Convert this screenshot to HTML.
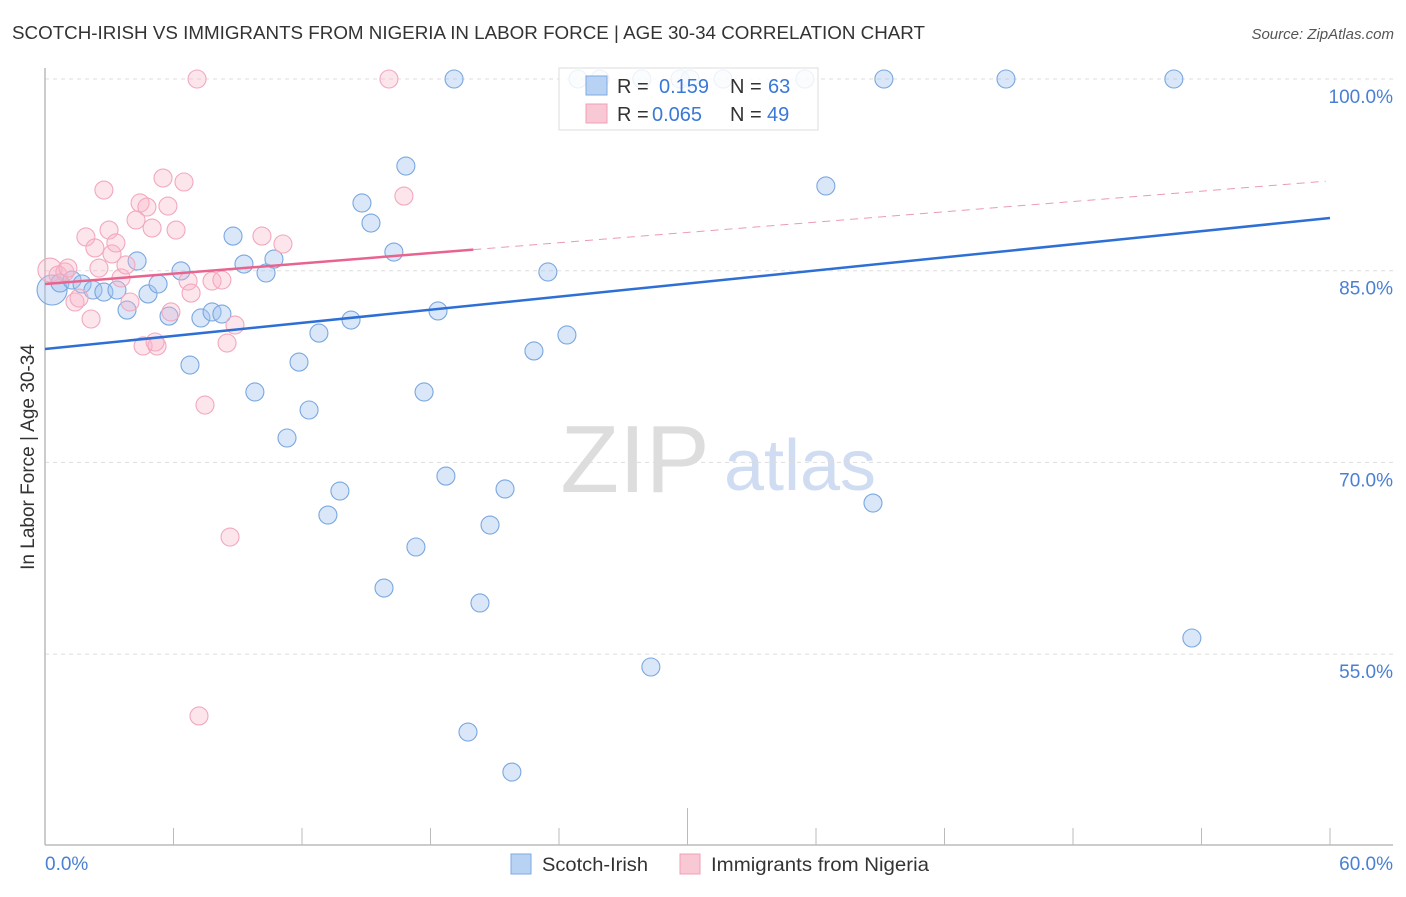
<!DOCTYPE html>
<html><head><meta charset="utf-8"><style>
body{margin:0;background:#fff;font-family:"Liberation Sans",sans-serif;}
svg text{font-family:"Liberation Sans",sans-serif;}
</style></head><body>
<svg id="chart" width="1406" height="892" xmlns="http://www.w3.org/2000/svg">
<text x="12" y="39" font-size="18" fill="#333" textLength="913" lengthAdjust="spacingAndGlyphs">SCOTCH-IRISH VS IMMIGRANTS FROM NIGERIA IN LABOR FORCE | AGE 30-34 CORRELATION CHART</text>
<text x="1394" y="39" font-size="15" fill="#555" font-style="italic" text-anchor="end">Source: ZipAtlas.com</text>
<text x="635" y="492" font-size="96" fill="#ddd" font-family="Liberation Serif" text-anchor="middle">ZIP</text>
<text x="800" y="490" font-size="72" fill="#cfdcf2" text-anchor="middle">atlas</text>
<g id="grid"></g>
<g id="axes"></g>
<g id="pts"></g>
<g id="trend"></g>
<text x="0" y="0" transform="translate(34,457) rotate(-90)" font-size="19" fill="#333" text-anchor="middle">In Labor Force | Age 30-34</text>
<text x="45" y="870" font-size="19" fill="#4a7fd4">0.0%</text>
<text x="1393" y="870" font-size="19" fill="#4a7fd4" text-anchor="end">60.0%</text>
<g>
<rect x="511" y="854" width="20" height="20" fill="#b8d2f4" stroke="#7ea9e0"/>
<text x="542" y="871" font-size="19.5" fill="#333" textLength="106" lengthAdjust="spacingAndGlyphs">Scotch-Irish</text>
<rect x="680" y="854" width="20" height="20" fill="#f9c8d5" stroke="#f0a0b8"/>
<text x="711" y="871" font-size="19.5" fill="#333" textLength="218" lengthAdjust="spacingAndGlyphs">Immigrants from Nigeria</text>
</g>
<g>
<rect x="559" y="68" width="259" height="62" fill="rgba(255,255,255,0.85)" stroke="#ddd"/>
<rect x="586" y="76" width="21" height="19" fill="#b8d2f4" stroke="#7ea9e0"/>
<rect x="586" y="104" width="21" height="19" fill="#f9c8d5" stroke="#f0a0b8"/>
<text x="617" y="93" font-size="20" fill="#333">R = </text><text x="659" y="93" font-size="20" fill="#3a78d8">0.159</text>
<text x="730" y="93" font-size="20" fill="#333">N = </text><text x="768" y="93" font-size="20" fill="#3a78d8">63</text>
<text x="617" y="121" font-size="20" fill="#333">R = </text><text x="652" y="121" font-size="20" fill="#3a78d8">0.065</text>
<text x="730" y="121" font-size="20" fill="#333">N = </text><text x="767" y="121" font-size="20" fill="#3a78d8">49</text>
</g>
</svg>
<script>
const yTicks=[100,85,70,55];
const yTickLabels=["100.0%","85.0%","70.0%","55.0%"];
const blueX=[0.33,0.70,1.26,1.73,2.24,2.75,3.36,3.83,4.30,4.81,5.28,5.79,6.35,6.77,7.28,7.80,8.26,8.78,9.29,9.80,10.32,10.69,11.30,11.86,12.33,12.79,13.21,13.77,14.29,14.80,15.22,15.83,16.29,16.85,17.32,17.70,18.35,18.72,19.10,19.75,20.31,20.78,21.48,21.80,22.83,23.48,24.37,24.89,25.91,27.87,28.29,29.65,30.12,31.66,35.48,36.46,38.66,39.17,44.87,52.71,53.55];
const blueY=[83.49,84.04,84.27,83.96,83.49,83.33,83.49,81.92,85.76,83.18,83.96,81.45,84.98,77.62,81.30,81.77,81.61,87.71,85.52,75.51,84.82,85.91,71.91,77.85,74.10,80.12,65.88,67.76,81.14,90.30,88.73,60.17,86.46,93.19,63.38,75.51,81.85,68.93,100,48.90,59.00,65.10,67.92,45.77,78.72,84.90,79.97,100,100,100,53.99,100,100,100,100,91.63,66.82,100,100,100,56.26];
const pinkX=[0.23,0.61,0.93,1.07,1.40,1.59,1.91,2.15,2.33,2.52,2.75,2.99,3.13,3.31,3.55,3.78,3.97,4.25,4.44,4.58,4.76,5.00,5.23,5.51,5.74,5.88,6.12,6.49,6.68,6.82,7.10,7.19,7.47,7.80,8.26,8.50,8.64,8.87,10.13,11.11,16.06,16.76,5.14];
const pinkY=[85.05,84.66,84.90,85.21,82.55,82.86,87.64,81.22,86.78,85.21,91.31,88.18,86.31,87.17,84.43,85.45,82.55,88.97,90.30,79.11,89.98,88.34,79.11,92.25,90.06,81.77,88.18,91.94,84.19,83.25,100,50.16,74.49,84.19,84.27,79.34,64.16,80.75,87.71,87.09,100,90.84,79.42];
const blueTrend=[78.87,89.12];
const pinkTrend=[83.96,92.03];
const pinkSolidEnd=20;
const NS="http://www.w3.org/2000/svg";
const X=v=>45+v/60*1285;
const Y=v=>79+(100-v)*12.78;
function mk(tag,attrs,parent){const e=document.createElementNS(NS,tag);for(const k in attrs)e.setAttribute(k,attrs[k]);document.getElementById(parent).appendChild(e);return e;}
yTicks.forEach((t,i)=>{
 const l=mk('line',{x1:45,x2:1393,y1:Y(t),y2:Y(t),stroke:'#ddd','stroke-dasharray':'4,4'},'grid');
 
 
 const tx=mk('text',{x:1393,y:Y(t)+24,'font-size':19,fill:'#4a7fd4','text-anchor':'end'},'grid');
 tx.textContent=yTickLabels[i];
 
 
});
let ax=mk('line',{x1:45,x2:1393,y1:845,y2:845,stroke:'#bbb','stroke-width':1.5},'axes');


let ay=mk('line',{x1:45,x2:45,y1:68,y2:845,stroke:'#bbb','stroke-width':1.5},'axes');


for(let i=0;i<=10;i++){
 const v=i*6;
 const t=mk('line',{x1:X(v),x2:X(v),y1:i==5?808:828,y2:845,stroke:'#bbb'},'axes');
 
 
}
blueX.forEach((x,i)=>{
 const c=mk('circle',{cx:X(x),cy:Y(blueY[i]),r:i==0?15:9,fill:'rgba(160,196,240,0.4)',stroke:'#7aa7e0','stroke-width':1.1},'pts');
 
 
});
pinkX.forEach((x,i)=>{
 const c=mk('circle',{cx:X(x),cy:Y(pinkY[i]),r:i==0?12:9,fill:'rgba(248,180,200,0.35)',stroke:'#f2a8be','stroke-width':1.1},'pts');
 
 
});
let bt=mk('line',{x1:X(0),y1:Y(blueTrend[0]),x2:X(60),y2:Y(blueTrend[1]),stroke:'#2e6fd6','stroke-width':2.5},'trend');


const pAt=x=>pinkTrend[0]+(pinkTrend[1]-pinkTrend[0])*x/60;
let pt=mk('line',{x1:X(0),y1:Y(pAt(0)),x2:X(pinkSolidEnd),y2:Y(pAt(pinkSolidEnd)),stroke:'#e8648e','stroke-width':2.5},'trend');


let pd=mk('line',{x1:X(pinkSolidEnd),y1:Y(pAt(pinkSolidEnd)),x2:X(59.8),y2:Y(pAt(59.8)),stroke:'#eb9ab2','stroke-width':1,'stroke-dasharray':'8,6'},'trend');


</script>
</body></html>
